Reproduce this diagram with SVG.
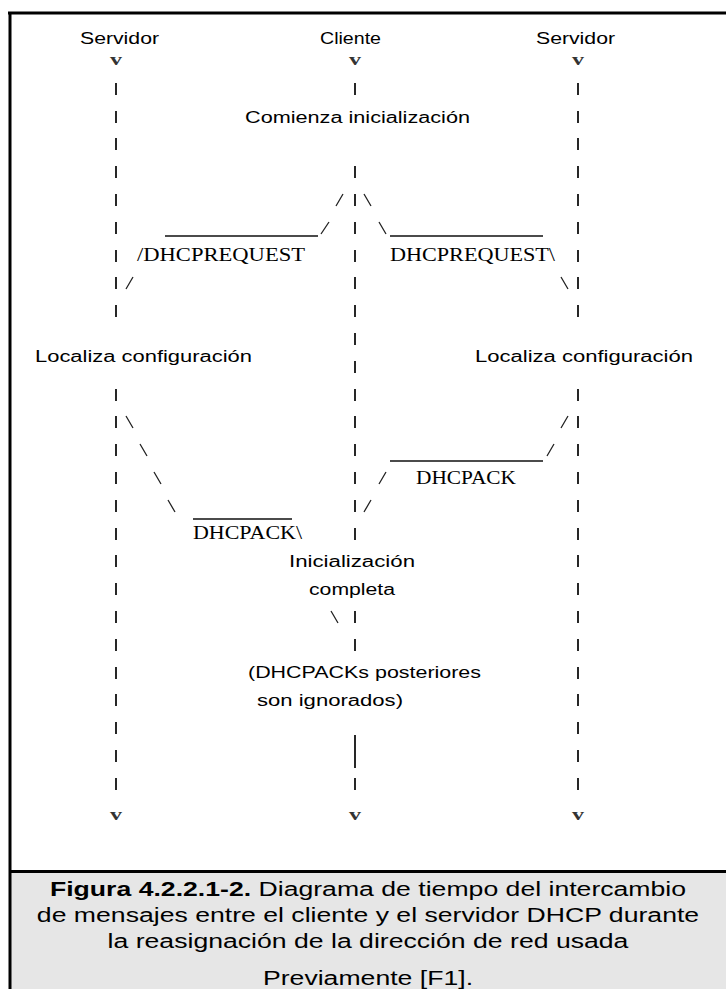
<svg xmlns="http://www.w3.org/2000/svg" width="726" height="989" viewBox="0 0 726 989">
<style>
.lbl{font-family:"Liberation Sans",Arial,sans-serif;font-size:16px;fill:#000}
.mono{font-family:"Liberation Serif","Times New Roman",serif;font-size:18px;fill:#000}
.vv{font-family:"Liberation Serif","Times New Roman",serif;font-size:16px;font-weight:bold;fill:#333}
.cap{font-family:"Liberation Sans",Arial,sans-serif;font-size:21px;fill:#000}
.bar{stroke:#111;stroke-width:1.8;fill:none}
.sl{stroke:#222;stroke-width:1.3;fill:none}
.us{stroke:#111;stroke-width:1.5;fill:none}
</style>
<rect x="0" y="0" width="726" height="989" fill="#fff"/>
<g id="frame">
<rect x="10" y="871" width="716" height="118" fill="#e6e6e6"/>
<line x1="8" y1="13" x2="726" y2="13" stroke="#000" stroke-width="3"/>
<line x1="10" y1="12" x2="10" y2="989" stroke="#000" stroke-width="3"/>
<line x1="9" y1="871.5" x2="726" y2="871.5" stroke="#000" stroke-width="3"/>
</g>
<g id="connectors">
<path class="bar" d="M116 83v12M116 111v12M116 138v12M116 166v12M116 194v12M116 222v12M116 250v12M116 277v12M116 305v12
M116 389v12M116 416v12M116 444v12M116 472v12M116 500v12M116 528v12M116 555v12M116 583v12M116 611v12M116 639v12M116 667v12M116 694v12M116 722v12M116 750v12M116 778v12"/>
<path class="bar" d="M578 83v12M578 111v12M578 138v12M578 166v12M578 194v12M578 222v12M578 250v12M578 277v12M578 305v12
M578 389v12M578 416v12M578 444v12M578 472v12M578 500v12M578 528v12M578 555v12M578 583v12M578 611v12M578 639v12M578 667v12M578 694v12M578 722v12M578 750v12M578 778v12"/>
<path class="bar" d="M355 83v12M355 166v12M355 194v12M355 222v12M355 250v12M355 277v12M355 305v12M355 333v12M355 361v12
M355 389v12M355 416v12M355 444v12M355 472v12M355 500v12M355 528v12M355 611v12M355 639v12M355 735v33M355 778v12"/>
<path class="sl" d="M336 206L343 194M364 194L371 206M321 234L329 222M379 222L386 234M126 289L133 277M561 277L568 289
M126 416L133 428M561 428L568 416M140 444L147 456M547 456L554 444M154 472L161 484M379 484L386 472M168 500L175 512M364 512L371 500M331 611L338 623"/>
<path class="us" d="M165 236H318M390 236H543M390 461H543M193 519H292"/>
</g>
<g id="node-servidor-izq">
<text class="lbl" x="80" y="44" textLength="79" lengthAdjust="spacingAndGlyphs">Servidor</text>
<text class="vv" x="110" y="65" textLength="12" lengthAdjust="spacingAndGlyphs">v</text>
<text class="vv" x="110" y="820" textLength="12" lengthAdjust="spacingAndGlyphs">v</text>
</g>
<g id="node-cliente">
<text class="lbl" x="320" y="44" textLength="61" lengthAdjust="spacingAndGlyphs">Cliente</text>
<text class="vv" x="349" y="65" textLength="12" lengthAdjust="spacingAndGlyphs">v</text>
<text class="vv" x="349" y="820" textLength="12" lengthAdjust="spacingAndGlyphs">v</text>
</g>
<g id="node-servidor-der">
<text class="lbl" x="536" y="44" textLength="79" lengthAdjust="spacingAndGlyphs">Servidor</text>
<text class="vv" x="572" y="65" textLength="12" lengthAdjust="spacingAndGlyphs">v</text>
<text class="vv" x="572" y="820" textLength="12" lengthAdjust="spacingAndGlyphs">v</text>
</g>
<g id="node-comienza">
<text class="lbl" x="245" y="123" textLength="225" lengthAdjust="spacingAndGlyphs">Comienza inicialización</text>
</g>
<g id="msg-request">
<text class="mono" x="137" y="261" textLength="168" lengthAdjust="spacingAndGlyphs">/DHCPREQUEST</text>
<text class="mono" x="390" y="261" textLength="165" lengthAdjust="spacingAndGlyphs">DHCPREQUEST\</text>
</g>
<g id="node-localiza">
<text class="lbl" x="35" y="362" textLength="217" lengthAdjust="spacingAndGlyphs">Localiza configuración</text>
<text class="lbl" x="475" y="362" textLength="218" lengthAdjust="spacingAndGlyphs">Localiza configuración</text>
</g>
<g id="msg-ack">
<text class="mono" x="416" y="484" textLength="100" lengthAdjust="spacingAndGlyphs">DHCPACK</text>
<text class="mono" x="193" y="539" textLength="109" lengthAdjust="spacingAndGlyphs">DHCPACK\</text>
</g>
<g id="node-completa">
<text class="lbl" x="289" y="567" textLength="126" lengthAdjust="spacingAndGlyphs">Inicialización</text>
<text class="lbl" x="309" y="595" textLength="86" lengthAdjust="spacingAndGlyphs">completa</text>
</g>
<g id="node-ignorados">
<text class="lbl" x="248" y="678" textLength="233" lengthAdjust="spacingAndGlyphs">(DHCPACKs posteriores</text>
<text class="lbl" x="257" y="706" textLength="146" lengthAdjust="spacingAndGlyphs">son ignorados)</text>
</g>
<g id="caption" transform="translate(368 0) scale(1.268 1)" text-anchor="middle">
<text class="cap" x="0" y="896"><tspan font-weight="bold">Figura 4.2.2.1-2.</tspan> Diagrama de tiempo del intercambio</text>
<text class="cap" x="0" y="922">de mensajes entre el cliente y el servidor DHCP durante</text>
<text class="cap" x="0" y="948">la reasignación de la dirección de red usada</text>
<text class="cap" x="0" y="985">Previamente [F1].</text>
</g>
</svg>
